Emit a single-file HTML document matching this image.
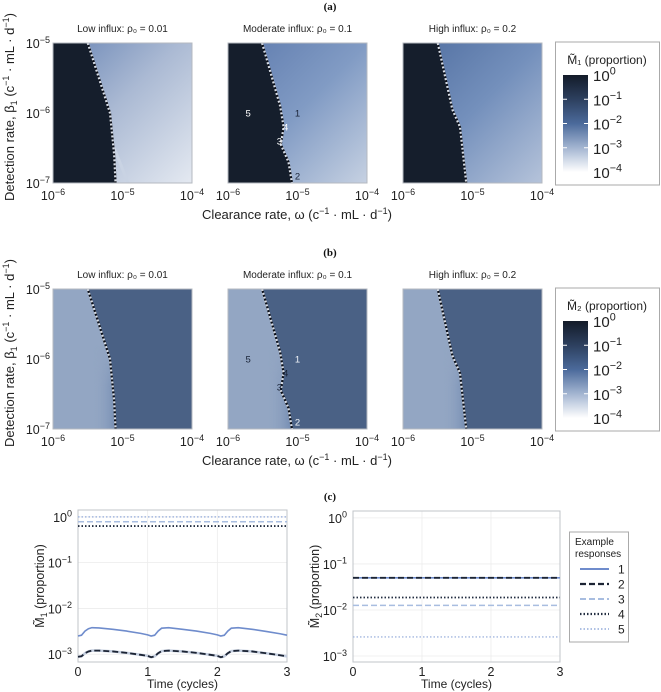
<!DOCTYPE html>
<html><head><meta charset="utf-8">
<style>
html,body{margin:0;padding:0;background:#fff;}
svg{display:block;font-family:"Liberation Sans",sans-serif;}
</style></head>
<body>
<svg id="fig" width="661" height="692" viewBox="0 0 661 692" xmlns="http://www.w3.org/2000/svg">
<defs>
<linearGradient id="ga1" x1="0" y1="0" x2="1" y2="1"><stop offset="0" stop-color="#6a86b5"/><stop offset="0.45" stop-color="#aab9d3"/><stop offset="1" stop-color="#e4e9f1"/></linearGradient>
<linearGradient id="ga2" x1="0" y1="0" x2="1" y2="1"><stop offset="0" stop-color="#5d7aad"/><stop offset="0.5" stop-color="#819bc4"/><stop offset="1" stop-color="#c6d1e2"/></linearGradient>
<linearGradient id="ga3" x1="0" y1="0" x2="1" y2="1"><stop offset="0" stop-color="#4f6d9f"/><stop offset="0.5" stop-color="#7490bc"/><stop offset="1" stop-color="#b5c3da"/></linearGradient>
<linearGradient id="gstrip" x1="0" y1="0" x2="1" y2="0"><stop offset="0" stop-color="#93a6c3" stop-opacity="0"/><stop offset="1" stop-color="#6c86ae"/></linearGradient>
<linearGradient id="gfade" x1="0" y1="0" x2="0" y2="1"><stop offset="0" stop-color="#fff" stop-opacity="0"/><stop offset="0.5" stop-color="#fff" stop-opacity="1"/><stop offset="1" stop-color="#fff" stop-opacity="1"/></linearGradient>
<mask id="mfade" maskContentUnits="objectBoundingBox"><rect x="0" y="0" width="1" height="1" fill="url(#gfade)"/></mask>
<linearGradient id="gcb" x1="0" y1="0" x2="0" y2="1"><stop offset="0" stop-color="#131b29"/><stop offset="0.25" stop-color="#2d405f"/><stop offset="0.5" stop-color="#4b6a9b"/><stop offset="0.75" stop-color="#a3b5d1"/><stop offset="1" stop-color="#ffffff"/></linearGradient>
</defs>
</svg>
<script>
// ---- data ----
const omegaTicks = ["-6","-5","-4"];
const betaTicks = ["-5","-6","-7"];
const panelTitles = ["Low influx:  ρ₀ = 0.01","Moderate influx:  ρ₀ = 0.1","High influx:  ρ₀ = 0.2"];
const boundaryBeta1 = [-5,-6,-6.6,-7];
const boundaryOmega1 = [-5.5,-5.18,-5.12,-5.1];
const boundaryBeta2 = [-5,-5.9,-6.2,-6.45,-6.7,-7];
const boundaryOmega2 = [-5.51,-5.25,-5.2,-5.24,-5.13,-5.08];
const boundaryBeta3 = [-5,-5.95,-6.2,-7];
const boundaryOmega3 = [-5.5,-5.29,-5.18,-5.09];
const pointLabels = ["5","1","4","3","2"];
const pointOmega = [-5.71,-5.0,-5.17,-5.26,-5.0];
const pointBeta = [-6.0,-6.0,-6.2,-6.4,-6.9];
const cbTicks = ["0","-1","-2","-3","-4"];
const timeTicks = [0,1,2,3];
const logTicks = [0,-1,-2,-3];
const tSample = [0,0.05,0.1,0.15,0.2,0.3,0.5,0.7,0.9,1.0,1.05,1.1,1.15,1.2,1.3,1.5,1.7,1.9,2.0,2.05,2.1,2.15,2.2,2.3,2.5,2.7,2.9,3.0];
const m1Resp1 = [2.5e-3,2.6e-3,3.2e-3,3.6e-3,3.8e-3,3.75e-3,3.5e-3,3.2e-3,2.85e-3,2.65e-3,2.5e-3,2.6e-3,3.2e-3,3.7e-3,3.8e-3,3.5e-3,3.2e-3,2.85e-3,2.65e-3,2.5e-3,2.6e-3,3.2e-3,3.7e-3,3.8e-3,3.5e-3,3.15e-3,2.8e-3,2.6e-3];
const m1Resp2 = [0.88e-3,0.9e-3,1.05e-3,1.15e-3,1.2e-3,1.2e-3,1.15e-3,1.07e-3,0.97e-3,0.92e-3,0.86e-3,0.9e-3,1.05e-3,1.17e-3,1.2e-3,1.15e-3,1.07e-3,0.97e-3,0.92e-3,0.86e-3,0.9e-3,1.05e-3,1.17e-3,1.2e-3,1.15e-3,1.05e-3,0.95e-3,0.9e-3];
const m1Const = [null,null,0.78,0.63,1.0];
const m2Const = [0.05,0.05,0.0126,0.0187,0.0026];
const respNames = ["1","2","3","4","5"];

const NS="http://www.w3.org/2000/svg";
const svg=document.getElementById('fig');
function mk(tag,attrs,parent){const e=document.createElementNS(NS,tag);for(const k in attrs)e.setAttribute(k,attrs[k]);(parent||svg).appendChild(e);return e;}
function txt(x,y,s,size,anchor,fill,extra){const t=mk('text',Object.assign({x:x,y:y,'font-size':size,'text-anchor':anchor||'middle',fill:fill||'#222'},extra||{}));t.textContent=s;return t;}
function powText(x,y,exp,size,anchor){const t=mk('text',{x:x,y:y,'font-size':size,'text-anchor':anchor||'middle',fill:'#222'});
 const a=document.createElementNS(NS,'tspan');a.textContent='10';t.appendChild(a);
 const b=document.createElementNS(NS,'tspan');b.setAttribute('dy',-size*0.42);b.setAttribute('font-size',size*0.72);b.textContent=exp.replace('-','−');t.appendChild(b);return t;}

const PX=[53,228,403], PW=139, PH=140;
const sections=[{y0:43,label:'(a)',ly:10,title:'M̃₁ (proportion)'},{y0:289,label:'(b)',ly:256,title:'M̃₂ (proportion)'}];
const bB=[boundaryBeta1,boundaryBeta2,boundaryBeta3], bO=[boundaryOmega1,boundaryOmega2,boundaryOmega3];
const defs=svg.querySelector('defs');

sections.forEach((sec,si)=>{
 const y0=sec.y0;
 const hl=txt(330,sec.ly,sec.label,11,'middle','#111',{'font-family':'Liberation Serif, serif','font-weight':'bold'});
 
 
 for(let p=0;p<3;p++){
  const px=PX[p];
  const xs=lw=>px+(lw+6)/2*PW;
  const ys=lb=>y0+(-5-lb)/2*PH;
  const g=mk('g',{});
  
  
  const tt=txt(px+PW/2,y0-11,panelTitles[p],10,'middle','#222');
  
  
  mk('rect',{x:px,y:y0,width:PW,height:PH,fill:si===0?'url(#ga'+(p+1)+')':'#4a6185'},g);
  let pts=[[px,y0]];
  bB[p].forEach((b,i)=>pts.push([xs(bO[p][i]),ys(b)]));
  pts.push([px,y0+PH]);
  const polyStr=pts.map(q=>q.join(',')).join(' ');
  if(si===1){
   mk('polygon',{points:polyStr,fill:'#93a6c3'},g);
   const cid='clipb'+p;
   const cp=mk('clipPath',{id:cid},defs);
   mk('polygon',{points:polyStr},cp);
   const sx=xs(-5.42), ex=xs(-5.05);
   const gg=mk('g',{'clip-path':'url(#'+cid+')'},g);
   mk('rect',{x:sx,y:ys(-5.8),width:ex-sx,height:y0+PH-ys(-5.8),fill:'url(#gstrip)',mask:'url(#mfade)'},gg);
  } else {
   mk('polygon',{points:polyStr,fill:'#151e2c'},g);
   if(p===0){mk('line',{x1:xs(-5.12),y1:ys(-6.5),x2:xs(-4.92),y2:ys(-7),stroke:'#c9d3e3','stroke-width':3},g);}
  }
  const line=pts.slice(1,-1).map(q=>q.join(',')).join(' ');
  const bl=mk('polyline',{points:line,fill:'none',stroke:'#0b0f18','stroke-width':2.2},g);
  
  
  mk('polyline',{points:line,fill:'none',stroke:'#d8dde6','stroke-width':2.2,'stroke-dasharray':'2 2'},g);
  mk('rect',{x:px,y:y0,width:PW,height:PH,fill:'none',stroke:'#b5b9c0','stroke-width':1},g);
  omegaTicks.forEach((e,i)=>{const t=powText(px+i*PW/2,y0+PH+17,e,12.5);});
  if(p===0){betaTicks.forEach((e,i)=>{const t=powText(px-3,y0+i*PH/2+5,e,12.5,'end');});}
  if(p===1){
   pointLabels.forEach((s,i)=>{
    let fill;
    if(si===0) fill=(s==='1'||s==='2')?'#1a2438':'#fff'; else fill=(s==='5'||s==='3'||s==='4')?'#1a2438':'#eef2f8';
    const l=txt(xs(pointOmega[i]),ys(pointBeta[i])+3.5,s,9.5,'middle',fill);
    
    
   });
  }
 }
 const xt=mk('text',{x:297,y:y0+PH+36,'font-size':13,'text-anchor':'middle',fill:'#222'});
 xt.innerHTML='Clearance rate, ω (c<tspan dy="-5" font-size="9">−1</tspan><tspan dy="5"> · mL · d</tspan><tspan dy="-5" font-size="9">−1</tspan><tspan dy="5">)</tspan>';
 
 
 const yt=mk('text',{x:0,y:0,'font-size':13,'text-anchor':'middle',fill:'#222',transform:`translate(14,${y0+PH/2-6}) rotate(-90)`});
 yt.innerHTML='Detection rate, β<tspan dy="3" font-size="9">1</tspan><tspan dy="-3"> (c</tspan><tspan dy="-5" font-size="9">−1</tspan><tspan dy="5"> · mL · d</tspan><tspan dy="-5" font-size="9">−1</tspan><tspan dy="5">)</tspan>';
 
 
 const cb=mk('g',{});
 
 
 mk('rect',{x:555.5,y:y0-1,width:104,height:143,fill:'#fff',stroke:'#aaa','stroke-width':1},cb);
 const ct=txt(607,y0+21,sec.title,12,'middle','#222');
 
 
 mk('rect',{x:563,y:y0+32,width:25,height:97,fill:'url(#gcb)'},cb);
 cbTicks.forEach((e,i)=>{const yy=y0+32+i*97/4;
  if(i>0&&i<4){mk('line',{x1:563,x2:567,y1:yy,y2:yy,stroke:'#fff','stroke-width':1},cb);mk('line',{x1:584,x2:588,y1:yy,y2:yy,stroke:'#fff','stroke-width':1},cb);}
  const t=powText(593,yy+6,e,15,'start');});
});

// ---- (c) ----
const cl=txt(330,500,'(c)',11,'middle','#111',{'font-family':'Liberation Serif, serif','font-weight':'bold'});


const plots=[{x0:78,x1:287,y0:510,y1:662,top:0.15,bot:-3.17,lab:'1'},{x0:353,x1:560,y0:511,y1:662,top:0.15,bot:-3.13,lab:'2'}];
const styles=[{c:'#6f8ccc',d:'',w:1.6},{c:'#1c2434',d:'6 3',w:1.8},{c:'#a8bde0',d:'6 3',w:1.5},{c:'#222d40',d:'1.5 2',w:1.8},{c:'#a3b7df',d:'1.5 2',w:1.4}];
plots.forEach((P,pi)=>{
 const g=mk('g',{});
 
 
 const xs=t=>P.x0+t/3*(P.x1-P.x0);
 const ys=v=>P.y0+(P.top-Math.log10(v))/(P.top-P.bot)*(P.y1-P.y0);
 timeTicks.forEach(t=>{mk('line',{x1:xs(t),x2:xs(t),y1:P.y0,y2:P.y1,stroke:'#ececec','stroke-width':0.8},g);
  const l=txt(xs(t),P.y1+14,String(t),12.5,'middle','#222');});
 logTicks.forEach(k=>{const yy=ys(Math.pow(10,k));mk('line',{x1:P.x0,x2:P.x1,y1:yy,y2:yy,stroke:'#ececec','stroke-width':0.8},g);
  const l=powText(P.x0-6,yy+5,String(k),12.5,'end');});
 mk('rect',{x:P.x0,y:P.y0,width:P.x1-P.x0,height:P.y1-P.y0,fill:'none',stroke:'#c0c4ca','stroke-width':1},g);
 const draw=(arr,idx)=>{const pts=arr.map((v,i)=>xs(tSample[i])+','+ys(v)).join(' ');
  const s=styles[idx];const l=mk('polyline',{points:pts,fill:'none',stroke:s.c,'stroke-width':s.w,'stroke-dasharray':s.d},g);
  };
 const hline=(v,idx)=>{const s=styles[idx];const l=mk('line',{x1:xs(0),x2:xs(3),y1:ys(v),y2:ys(v),stroke:s.c,'stroke-width':s.w,'stroke-dasharray':s.d},g);
  };
 if(pi===0){
  [4,2,3].forEach(i=>hline(m1Const[i],i));
  draw(m1Resp1,0);
  mk('polyline',{points:m1Resp2.map((v,i)=>xs(tSample[i])+','+ys(v)).join(' '),fill:'none',stroke:'#c5cfe0','stroke-width':2.6},g);
  draw(m1Resp2,1);
 } else {
  [0,1,2,3,4].forEach(i=>hline(m2Const[i],i));
 }
 const tl=txt((P.x0+P.x1)/2,688,'Time (cycles)',12,'middle','#222');
 
 
 const yl=mk('text',{x:0,y:0,'font-size':12.5,'text-anchor':'middle',fill:'#222',transform:`translate(${P.x0-34},${(P.y0+P.y1)/2}) rotate(-90)`});
 yl.innerHTML='M̃<tspan dy="3" font-size="9">'+P.lab+'</tspan><tspan dy="-3"> (proportion)</tspan>';
 
 
});
const lg=mk('g',{});


mk('rect',{x:569.5,y:532,width:59,height:110,fill:'#fff',stroke:'#aaa','stroke-width':1},lg);
txt(575,545,'Example',10,'start','#222');
txt(575,557,'responses',10,'start','#222');
respNames.forEach((n,i)=>{const yy=569+i*15;const s=styles[i];
 const e=mk('line',{x1:580,x2:609,y1:yy,y2:yy,stroke:s.c,'stroke-width':s.w+0.4,'stroke-dasharray':s.d},lg);
 
 
 txt(618,yy+4.5,n,12,'start','#222');});
</script>
</body></html>
